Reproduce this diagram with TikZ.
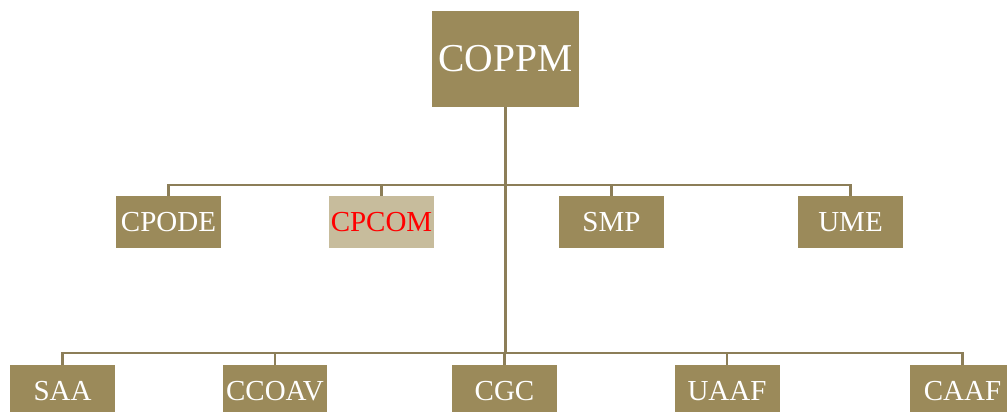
\documentclass[tikz,border=0pt]{standalone}
\usepackage{fontspec}
\setmainfont{Liberation Serif}
\usetikzlibrary{positioning}
\definecolor{khaki}{RGB}{155,138,90}
\definecolor{paleKhaki}{RGB}{199,188,156}
\definecolor{linkline}{RGB}{140,126,88}
\tikzstyle{unit} = [rectangle, minimum width=2.1cm, minimum height=1.04cm, inner sep=0pt, fill=khaki, text=white, font=\fontsize{16.5}{19}\selectfont]
\tikzstyle{head} = [unit, minimum width=2.94cm, minimum height=1.92cm, font=\fontsize{22.5}{26}\selectfont]
\tikzstyle{link} = [draw=linkline, line width=1.4pt]

\begin{document}
\begin{tikzpicture}[x=0.02cm, y=-0.02cm]
\useasboundingbox (0,0) rectangle (1007,412);
\node (coppm) [head] at (505.5,59) {COPPM};

\node (cpode) [unit] at (168.5,222) {CPODE};
\node (cpcom) [unit, fill=paleKhaki, text=red] at (381.5,222) {CPCOM};
\node (smp) [unit] at (611.5,222) {SMP};
\node (ume) [unit] at (850.5,222) {UME};

\node (saa) [unit] at (62.5,391) {SAA};
\node (ccoav) [unit] at (275,391) {CCOAV};
\node (cgc) [unit] at (504.5,391) {CGC};
\node (uaaf) [unit] at (727,391) {UAAF};
\node (caaf) [unit] at (962.5,391) {CAAF};

\coordinate (bus1) at (0,185);
\coordinate (bus2) at (0,353);

\draw [link] (coppm.south) -- (coppm.south |- bus2);
\foreach \n in {cpode, cpcom, smp, ume}
  \draw [link] (\n.north) -- (\n.north |- bus1) -- (coppm.south |- bus1);
\foreach \n in {saa, ccoav, cgc, uaaf, caaf}
  \draw [link] (\n.north) -- (\n.north |- bus2) -- (coppm.south |- bus2);

\end{tikzpicture}
\end{document}
